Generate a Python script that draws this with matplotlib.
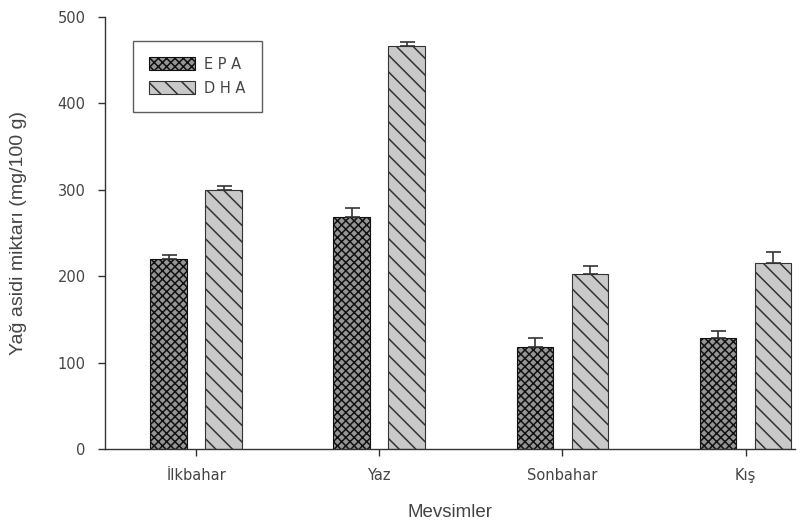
import matplotlib
matplotlib.use("Agg")
import matplotlib.pyplot as plt
import numpy as np

plt.rcParams['font.family'] = ['Liberation Sans', 'DejaVu Sans']
plt.rcParams['hatch.linewidth'] = 1.1

categories = ["İlkbahar", "Yaz", "Sonbahar", "Kış"]
epa = [220, 268, 118, 128]
epa_err = [4, 11, 10, 8]
dha = [300, 466, 202, 215]
dha_err = [4, 5, 10, 13]
yticks = [0, 100, 200, 300, 400, 500]

fig = plt.figure(figsize=(8.08, 5.23), dpi=100)
ax = fig.add_axes([0.130, 0.1415, 0.854, 0.826])

x = np.arange(len(categories))
w = 0.2
off = 0.15
txt = '#444444'
tickfont = ['DejaVu Sans']

ax.bar(x - off, epa, width=w, facecolor='#959595', edgecolor='#111111',
       hatch='xxxx', linewidth=0.8, label='E P A', zorder=2)
ax.bar(x + off, dha, width=w, facecolor='#c9c9c9', edgecolor='#333333',
       hatch='\\\\', linewidth=0.8, label='D H A', zorder=2)
ax.errorbar(x - off, epa, yerr=[np.zeros(4), epa_err], fmt='none',
            ecolor='#333333', elinewidth=1.2, capsize=5.4, capthick=1.2, zorder=3)
ax.errorbar(x + off, dha, yerr=[np.zeros(4), dha_err], fmt='none',
            ecolor='#333333', elinewidth=1.2, capsize=5.4, capthick=1.2, zorder=3)

ax.set_xlim(-0.497, 3.27)
ax.set_ylim(0, 500)
ax.set_yticks(yticks)
ax.set_xticks(x)
ax.set_xticklabels(categories)
for s in ['top', 'right']:
    ax.spines[s].set_visible(False)
for s in ['left', 'bottom']:
    ax.spines[s].set_color('#333333')
    ax.spines[s].set_linewidth(1.0)
ax.tick_params(axis='both', colors='#333333', labelcolor=txt, labelsize=10.5,
               length=5, width=1.0, direction='out')
ax.tick_params(axis='x', pad=9)
ax.tick_params(axis='y', pad=9)
for lab in ax.get_xticklabels() + ax.get_yticklabels():
    lab.set_family(tickfont)

ax.set_ylabel('Yağ asidi miktarı (mg/100 g)', fontsize=14, color=txt, labelpad=22)
ax.set_xlabel('Mevsimler', fontsize=13.5, color=txt, labelpad=15)

leg = ax.legend(loc='upper left', bbox_to_anchor=(0.04, 0.945),
                prop={'family': tickfont, 'size': 10.5},
                frameon=True, fancybox=False, edgecolor='#333333',
                handlelength=3.2, handleheight=1.0, borderpad=1.1,
                labelspacing=0.6, handletextpad=0.6, borderaxespad=0)
leg.get_frame().set_linewidth(1.0)
for t in leg.get_texts():
    t.set_color(txt)

fig.savefig('out.png', dpi=100)
